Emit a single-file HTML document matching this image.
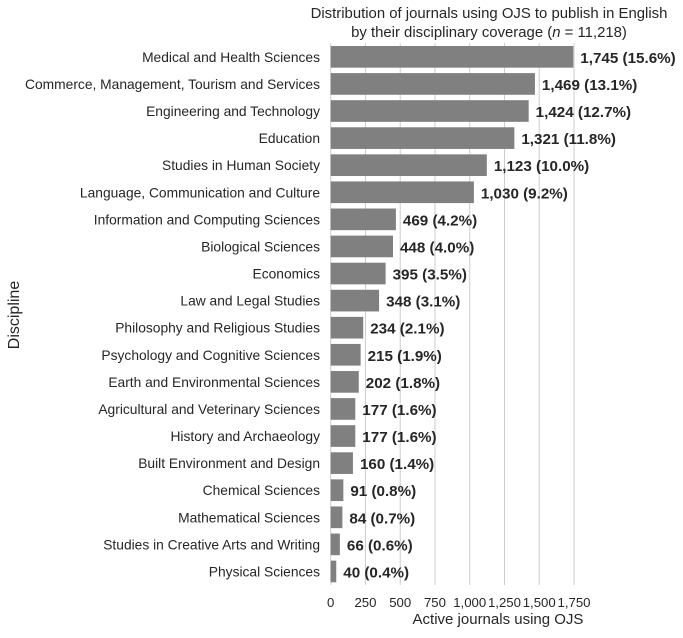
<!DOCTYPE html>
<html><head><meta charset="utf-8"><style>
body{margin:0;background:#fff;}
svg text{font-family:"Liberation Sans",Arial,sans-serif;fill:#262626;}
</style></head><body>
<svg id="chart" width="683" height="633" xmlns="http://www.w3.org/2000/svg">
<text x="489" y="18" font-size="14.9" text-anchor="middle">Distribution of journals using OJS to publish in English</text>
<text x="489" y="37" font-size="14.9" text-anchor="middle">by their disciplinary coverage (<tspan font-style="italic">n</tspan> = 11,218)</text>
<text transform="translate(19,315) rotate(-90)" font-size="16" text-anchor="middle">Discipline</text>
<text x="498" y="624" font-size="15" text-anchor="middle">Active journals using OJS</text>
<g id="grid"></g><g id="bars"></g><g id="labels"></g><g id="ticks"></g>
</svg>
<script>
const categories=["Medical and Health Sciences","Commerce, Management, Tourism and Services","Engineering and Technology","Education","Studies in Human Society","Language, Communication and Culture","Information and Computing Sciences","Biological Sciences","Economics","Law and Legal Studies","Philosophy and Religious Studies","Psychology and Cognitive Sciences","Earth and Environmental Sciences","Agricultural and Veterinary Sciences","History and Archaeology","Built Environment and Design","Chemical Sciences","Mathematical Sciences","Studies in Creative Arts and Writing","Physical Sciences"];
const values=[1745,1469,1424,1321,1123,1030,469,448,395,348,234,215,202,177,177,160,91,84,66,40];
const percents=["15.6%","13.1%","12.7%","11.8%","10.0%","9.2%","4.2%","4.0%","3.5%","3.1%","2.1%","1.9%","1.8%","1.6%","1.6%","1.4%","0.8%","0.7%","0.6%","0.4%"];
const tickValues=[0,250,500,750,1000,1250,1500,1750];
const tickLabels=["0","250","500","750","1,000","1,250","1,500","1,750"];
const NS="http://www.w3.org/2000/svg";
const x0=330.7,scale=242.6/1745,top0=43.3,bottom=585,band=(bottom-top0)/categories.length;
const xs=v=>x0+v*scale, yc=i=>top0+band*(i+0.5);
function mk(t,a){const e=document.createElementNS(NS,t);for(const k in a)e.setAttribute(k,a[k]);return e;}
const grid=document.getElementById('grid'),bars=document.getElementById('bars'),labels=document.getElementById('labels'),ticks=document.getElementById('ticks');
tickValues.forEach((v,i)=>{
 const l=mk('line',{x1:xs(v),x2:xs(v),y1:top0,y2:bottom,stroke:'#cccccc','stroke-width':1});
 
 
 grid.appendChild(l);
 const t=mk('text',{x:xs(v),y:607,'font-size':13.2,'text-anchor':'middle'});t.textContent=tickLabels[i];
 
 
 ticks.appendChild(t);
});
categories.forEach((c,i)=>{
 const h=band*0.8;
 const r=mk('rect',{x:x0,y:yc(i)-h/2,width:values[i]*scale,height:h,fill:'#808080'});
 
 
 bars.appendChild(r);
 const t=mk('text',{x:320,y:yc(i)+5,'font-size':13.8,'text-anchor':'end'});t.textContent=c;
 
 
 labels.appendChild(t);
 const v=mk('text',{x:xs(values[i])+7,y:yc(i)+6,'font-size':15.2,'font-weight':'bold'});
 v.textContent=values[i].toLocaleString('en-US')+' ('+percents[i]+')';
 
 
 labels.appendChild(v);
});
</script>
</body></html>
